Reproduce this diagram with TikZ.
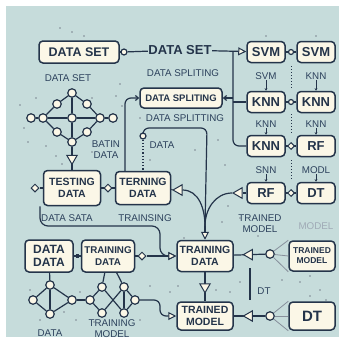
\documentclass[tikz,border=0pt]{standalone}
\usepackage{fontspec}
\setmainfont{Liberation Sans}
\usetikzlibrary{shapes.geometric, arrows.meta, positioning}
\definecolor{bgteal}{HTML}{C6DCDB}
\definecolor{cream}{HTML}{FBF7E7}
\definecolor{ink}{HTML}{24344A}
\definecolor{labelink}{HTML}{2C415C}

\tikzset{
  knot/.style={circle, draw=ink, fill=cream, line width=1.2pt, inner sep=0pt, minimum size=8.5pt},
  dia/.style={diamond, draw=ink, fill=cream, line width=1pt, inner sep=0pt, minimum size=8pt},
  tri/.style={isosceles triangle, isosceles triangle apex angle=60, draw=ink, fill=cream,
    line width=1pt, inner sep=0pt, minimum size=9pt},
  sq/.style={rectangle, fill=ink, inner sep=0pt, minimum size=3.5pt},
  speck/.style={circle, fill=ink!60, inner sep=0pt, minimum size=1.6pt}
}

\begin{document}
\begin{tikzpicture}[x=1pt, y=-1pt]
\fill[white] (0,0) rectangle (339,340);
\fill[bgteal] (6,6) rectangle (339,337);
\useasboundingbox (0,0) rectangle (339,340);

% boxes
\begin{scope}[every node/.style={shape=rectangle, draw=ink, line width=1.5pt,
    rounded corners=4pt, fill=cream, align=center, text=ink, inner sep=1pt},
    big/.style={font=\fontsize{13}{15}\selectfont\bfseries, minimum width=38pt, minimum height=21pt},
    two/.style={font=\fontsize{10.5}{11.5}\selectfont\bfseries}]
    \node[big, minimum width=80pt, minimum height=22pt, font=\fontsize{12.5}{14}\selectfont\bfseries] (ds) at (79,52) {DATA SET};
    \node[big] (svma) at (266,52) {SVM};
    \node[big] (svmb) at (316,52) {SVM};
    \node[big] (knna) at (266,102) {KNN};
    \node[big] (knnb) at (316,102) {KNN};
    \node[big] (knnc) at (266,146) {KNN};
    \node[big] (rfa) at (316,146) {RF};
    \node[big] (rfb) at (266,193) {RF};
    \node[big] (dta) at (316,193) {DT};
    \node[minimum width=82pt, minimum height=20pt, font=\fontsize{9.5}{11}\selectfont\bfseries] (spl) at (181,98) {DATA SPLITING};
    \node[two, minimum width=57pt, minimum height=35pt] (test) at (72,188) {TESTING\\DATA};
    \node[two, minimum width=55pt, minimum height=33pt] (tern) at (143,188) {TERNING\\DATA};
    \node[two, minimum width=48pt, minimum height=32pt, font=\fontsize{12}{13}\selectfont\bfseries] (dd) at (49,256) {DATA\\DATA};
    \node[two, minimum width=53pt, minimum height=32pt, font=\fontsize{9.8}{11.5}\selectfont\bfseries] (trd) at (108,256) {TRAINING\\DATA};
    \node[two, minimum width=56pt, minimum height=31pt] (trc) at (205,256) {TRAINING\\DATA};
    \node[two, minimum width=56pt, minimum height=28pt] (tm) at (205,316) {TRAINED\\MODEL};
    \node[minimum width=46pt, minimum height=30pt, font=\fontsize{8.5}{10}\selectfont\bfseries] (tmr) at (312,256) {TRAINED\\MODEL};
    \node[minimum width=46pt, minimum height=28pt, font=\fontsize{15}{17}\selectfont\bfseries] (dtr) at (312,316) {DT};
\end{scope}

\begin{scope}[every node/.style={text=labelink, align=center, inner sep=0.5pt,
    font=\fontsize{9.8}{10.8}\selectfont}]
    \node[text=ink, font=\fontsize{13}{15}\selectfont\bfseries] (dst) at (180,50) {DATA SET};
    \node (l1) at (68,78) {DATA SET};
    \node (l2) at (183,73) {DATA SPLITING};
    \node (l3) at (185,118) {DATA SPLITTING};
    \node (l4) at (266,76) {SVM};
    \node (l5) at (316,76) {KNN};
    \node (l6) at (266,124) {KNN};
    \node (l7) at (316,124) {KNN};
    \node (l8) at (266,170) {SNN};
    \node (l9) at (316,170) {MODL};
    \node (l10) at (260,224) {TRAINED\\MODEL};
    \node[text=labelink!45] (l11) at (316,226) {MODEL};
    \node (l12) at (106,150) {BATIN\\DATA};
    \node (l13) at (162,145) {DATA};
    \node (l14) at (67,218) {DATA SATA};
    \node (l15) at (145,218) {TRAINSING};
    \node (l16) at (264,291) {DT};
    \node (l17) at (50,333) {DATA};
    \node (l18) at (112,329) {TRAINING\\MODEL};
\end{scope}

\begin{scope}[every node/.style={knot}]
    \node (g1) at (72,93) {};
    \node (g2) at (57,104) {};
    \node (g3) at (87,104) {};
    \node (g4) at (31,118) {};
    \node (g5) at (43,118) {};
    \node (g6) at (72,118) {};
    \node (g7) at (100,118) {};
    \node (g8) at (113,118) {};
    \node (g9) at (57,132) {};
    \node (g10) at (87,132) {};
    \node (g11) at (72,142) {};
    \node (p1) at (33,300) {};
    \node (p2) at (50,285) {};
    \node (p3) at (50,314) {};
    \node (p4) at (72,300) {};
    \node (q1) at (90,300) {};
    \node (q2) at (102,287) {};
    \node (q3) at (102,313) {};
    \node (q4) at (124,287) {};
    \node (q5) at (124,313) {};
    \node (q6) at (135,300) {};
    \node[minimum size=6pt] (c1) at (124,52) {};
    \node[minimum size=6pt] (k0) at (143,136) {};
    \node (r1) at (270,254) {};
    \node (r2) at (270,316) {};
    \node[dia] (d0) at (35,188) {};
    \node[tri, shape border rotate=180] (d2) at (179,190) {};
    \node[dia] (d3) at (142,256) {};
    \node[tri, shape border rotate=180] (d4) at (239,193) {};
\end{scope}

\coordinate (j1) at (233,51);
\coordinate (j2) at (233,102);
\coordinate (j3) at (233,98);
\coordinate (m1) at (205,226);
\coordinate (h1) at (207,128);
\coordinate (c2) at (160,226);
\coordinate (c3) at (160,300);
\coordinate (v1) at (250,268);
\coordinate (v2) at (250,300);

\begin{scope}[every edge/.style={draw=ink, line width=1.2pt},
    line/.style={draw=ink, line width=1.2pt},
    tip/.style={-{Triangle[fill=cream, length=8pt, width=8pt, line width=1pt]}},
    barb/.style={-{Straight Barb[length=3pt, width=5pt]}},
    tick/.style={line width=0.6pt, -{Stealth[length=2.5pt, width=2.5pt]}},
    fan/.style={draw=ink!55, line width=0.8pt}]
    \path (ds) edge (c1);
    \path (c1) edge (dst);
    \path (dst) edge[tip] (svma);
    \draw[line, rounded corners=6pt] (j1) |- (knnc);
    \path (j2) edge (knna);
    \path (j3) edge[barb] (spl);
    \path (svma) edge node[knot, minimum size=5pt] {} (svmb);
    \path (knna) edge node[knot, minimum size=5pt] {} (knnb);
    \path (knnc) edge node[dia, minimum size=7pt] {} (rfa);
    \path (rfb) edge node[dia, minimum size=7pt] {} (dta);
    \path (l4) edge[tick] (knna);
    \path (l5) edge[tick] (knnb);
    \path (l6) edge[tick] (knnc);
    \path (l7) edge[tick] (rfa);
    \path (l8) edge[tick] (rfb);
    \path (l9) edge[tick] (dta);

    \path (g1) edge (g2) edge (g3) edge (g6);
    \path (g2) edge (g5);
    \path (g3) edge (g7);
    \path (g4) edge (g5);
    \path (g5) edge (g6) edge (g9);
    \path (g6) edge (g7) edge (g11);
    \path (g7) edge (g8) edge (g10);
    \path (g9) edge (g11);
    \path (g10) edge (g11);
    \path (g11) edge node[tri, shape border rotate=-90] {} (test);

    \path (d0) edge (test);
    \path (test) edge node[dia] {} (tern);
    \path (tern) edge (d2);
    \draw[line] (d2) to[out=0, in=90] (m1);
    \path (rfb) edge (d4);
    \draw[line] (d4) to[out=180, in=90] (m1);
    \draw[line, rounded corners=6pt] (k0) |- (h1) -- (m1);
    \path (m1) edge[tip] (trc);
    \path (k0) edge[dotted] (tern);
    \draw[line, barb, rounded corners=6pt] ([xshift=-18pt]tern.north) |- (spl);
    \draw[line, tip, rounded corners=8pt] ([xshift=-32pt]test.south) |- (c2) |- (trc);

    \path (dd) edge node[sq] {} (trd);
    \path (trd) edge (d3);
    \path (d3) edge[tip] (trc);
    \path (dd) edge (p2);
    \path (trd) edge (q2) edge (q4);
    \path (p1) edge (p2) edge (p3);
    \path (p2) edge (p3) edge (p4);
    \path (p3) edge (p4);
    \path (p4) edge (q1);
    \path (q1) edge (q2) edge (q3);
    \path (q2) edge (q5);
    \path (q3) edge (q4);
    \path (q4) edge (q5) edge (q6);
    \path (q5) edge (q6);
    \draw[line, tip, rounded corners=6pt] (q6) -- (c3) |- (tm);

    \path (trc) edge node[tri, shape border rotate=-90] {} (tm);
    \path (r1) edge[fan] (tmr.north west) edge[fan] (tmr.west) edge[fan] (tmr.south west);
    \path (r1) edge node[tri, shape border rotate=180] {} (trc);
    \path (r2) edge[fan] (dtr.north west) edge[fan] (dtr.west) edge[fan] (dtr.south west);
    \path (r2) edge node[tri, shape border rotate=180] {} (tm);
    \draw[line] (v1) -- (v2);
\end{scope}

\draw[ink, dotted, line width=1pt] (291,66) -- (291,88);
\draw[ink, dotted, line width=1pt] (291,114) -- (291,134);
\draw[ink, dotted, line width=1pt] (291,160) -- (291,180);
\foreach \p in {(60,28),(72,32),(84,36),(266,36),(316,36),(20,105),(24,128),(28,142),
    (36,98),(46,146),(92,98),(116,96),(120,84),(122,106),(92,152),(56,156),(62,164),
    (140,118),(150,160),(158,178),(195,150),(218,140),(225,165),(228,206),(222,222),
    (240,218),(30,290),(40,320),(64,312),(80,292),(76,320),(94,322),(140,320),(150,286),
    (178,286),(170,292),(282,280),(300,282),(310,276),(320,290),(310,296),(326,300),
    (216,290),(230,292),(240,282),(258,236),(184,238)}
    \node[speck] at \p {};
\end{tikzpicture}
\end{document}
